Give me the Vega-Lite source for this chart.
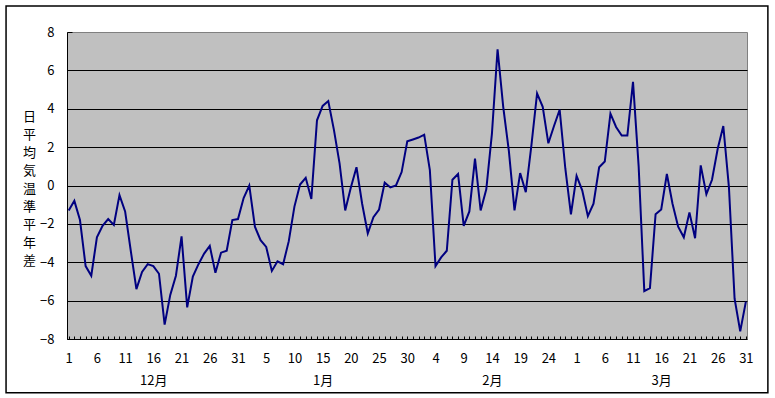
{
  "$schema": "https://vega.github.io/schema/vega-lite/v6.json",
  "width": 680,
  "height": 307,
  "autosize": "none",
  "padding": {"left": 67, "top": 32, "right": 28, "bottom": 59},
  "background": "white",
  "config": {
    "view": {"fill": "#C0C0C0", "stroke": "#808080", "strokeWidth": 1},
    "font": "Noto Sans CJK JP"
  },
  "data": {"values": [
    {"i":0,"date":"12/1","v":-1.3},{"i":1,"date":"12/2","v":-0.8},{"i":2,"date":"12/3","v":-1.8},{"i":3,"date":"12/4","v":-4.2},{"i":4,"date":"12/5","v":-4.7},
    {"i":5,"date":"12/6","v":-2.7},{"i":6,"date":"12/7","v":-2.1},{"i":7,"date":"12/8","v":-1.75},{"i":8,"date":"12/9","v":-2.05},{"i":9,"date":"12/10","v":-0.5},
    {"i":10,"date":"12/11","v":-1.35},{"i":11,"date":"12/12","v":-3.4},{"i":12,"date":"12/13","v":-5.4},{"i":13,"date":"12/14","v":-4.5},{"i":14,"date":"12/15","v":-4.1},
    {"i":15,"date":"12/16","v":-4.2},{"i":16,"date":"12/17","v":-4.6},{"i":17,"date":"12/18","v":-7.25},{"i":18,"date":"12/19","v":-5.7},{"i":19,"date":"12/20","v":-4.7},
    {"i":20,"date":"12/21","v":-2.65},{"i":21,"date":"12/22","v":-6.35},{"i":22,"date":"12/23","v":-4.75},{"i":23,"date":"12/24","v":-4.1},{"i":24,"date":"12/25","v":-3.55},
    {"i":25,"date":"12/26","v":-3.15},{"i":26,"date":"12/27","v":-4.55},{"i":27,"date":"12/28","v":-3.5},{"i":28,"date":"12/29","v":-3.4},{"i":29,"date":"12/30","v":-1.8},
    {"i":30,"date":"12/31","v":-1.75},
    {"i":31,"date":"1/1","v":-0.65},{"i":32,"date":"1/2","v":0.0},{"i":33,"date":"1/3","v":-2.15},{"i":34,"date":"1/4","v":-2.85},{"i":35,"date":"1/5","v":-3.2},
    {"i":36,"date":"1/6","v":-4.45},{"i":37,"date":"1/7","v":-3.95},{"i":38,"date":"1/8","v":-4.1},{"i":39,"date":"1/9","v":-2.9},{"i":40,"date":"1/10","v":-1.1},
    {"i":41,"date":"1/11","v":0.05},{"i":42,"date":"1/12","v":0.4},{"i":43,"date":"1/13","v":-0.7},{"i":44,"date":"1/14","v":3.4},{"i":45,"date":"1/15","v":4.15},
    {"i":46,"date":"1/16","v":4.4},{"i":47,"date":"1/17","v":2.9},{"i":48,"date":"1/18","v":1.15},{"i":49,"date":"1/19","v":-1.3},{"i":50,"date":"1/20","v":-0.1},
    {"i":51,"date":"1/21","v":0.95},{"i":52,"date":"1/22","v":-0.95},{"i":53,"date":"1/23","v":-2.5},{"i":54,"date":"1/24","v":-1.65},{"i":55,"date":"1/25","v":-1.25},
    {"i":56,"date":"1/26","v":0.15},{"i":57,"date":"1/27","v":-0.1},{"i":58,"date":"1/28","v":0.0},{"i":59,"date":"1/29","v":0.7},{"i":60,"date":"1/30","v":2.3},
    {"i":61,"date":"1/31","v":2.4},
    {"i":62,"date":"2/1","v":2.5},{"i":63,"date":"2/2","v":2.65},{"i":64,"date":"2/3","v":0.8},{"i":65,"date":"2/4","v":-4.2},{"i":66,"date":"2/5","v":-3.75},
    {"i":67,"date":"2/6","v":-3.4},{"i":68,"date":"2/7","v":0.3},{"i":69,"date":"2/8","v":0.6},{"i":70,"date":"2/9","v":-2.1},{"i":71,"date":"2/10","v":-1.35},
    {"i":72,"date":"2/11","v":1.4},{"i":73,"date":"2/12","v":-1.3},{"i":74,"date":"2/13","v":-0.2},{"i":75,"date":"2/14","v":2.7},{"i":76,"date":"2/15","v":7.1},
    {"i":77,"date":"2/16","v":4.1},{"i":78,"date":"2/17","v":1.8},{"i":79,"date":"2/18","v":-1.3},{"i":80,"date":"2/19","v":0.65},{"i":81,"date":"2/20","v":-0.35},
    {"i":82,"date":"2/21","v":2.1},{"i":83,"date":"2/22","v":4.8},{"i":84,"date":"2/23","v":4.1},{"i":85,"date":"2/24","v":2.2},{"i":86,"date":"2/25","v":3.1},
    {"i":87,"date":"2/26","v":3.95},{"i":88,"date":"2/27","v":0.9},{"i":89,"date":"2/28","v":-1.5},
    {"i":90,"date":"3/1","v":0.5},{"i":91,"date":"3/2","v":-0.25},{"i":92,"date":"3/3","v":-1.6},{"i":93,"date":"3/4","v":-0.95},{"i":94,"date":"3/5","v":0.95},
    {"i":95,"date":"3/6","v":1.25},{"i":96,"date":"3/7","v":3.75},{"i":97,"date":"3/8","v":3.05},{"i":98,"date":"3/9","v":2.6},{"i":99,"date":"3/10","v":2.6},
    {"i":100,"date":"3/11","v":5.4},{"i":101,"date":"3/12","v":1.0},{"i":102,"date":"3/13","v":-5.5},{"i":103,"date":"3/14","v":-5.35},{"i":104,"date":"3/15","v":-1.5},
    {"i":105,"date":"3/16","v":-1.25},{"i":106,"date":"3/17","v":0.6},{"i":107,"date":"3/18","v":-0.95},{"i":108,"date":"3/19","v":-2.15},{"i":109,"date":"3/20","v":-2.7},
    {"i":110,"date":"3/21","v":-1.4},{"i":111,"date":"3/22","v":-2.75},{"i":112,"date":"3/23","v":1.05},{"i":113,"date":"3/24","v":-0.45},{"i":114,"date":"3/25","v":0.3},
    {"i":115,"date":"3/26","v":1.9},{"i":116,"date":"3/27","v":3.1},{"i":117,"date":"3/28","v":-0.1},{"i":118,"date":"3/29","v":-5.9},{"i":119,"date":"3/30","v":-7.6},
    {"i":120,"date":"3/31","v":-6.05}
  ]},
  "layer": [
    {
      "mark": {"type": "line", "color": "#000080", "strokeWidth": 2, "strokeJoin": "miter"},
      "encoding": {
        "x": {
          "field": "i", "type": "quantitative",
          "scale": {"domain": [-0.3, 120.2], "nice": false, "zero": false},
          "axis": {
            "title": null,
            "values": [0,1,2,3,4,5,6,7,8,9,10,11,12,13,14,15,16,17,18,19,20,21,22,23,24,25,26,27,28,29,30,31,32,33,34,35,36,37,38,39,40,41,42,43,44,45,46,47,48,49,50,51,52,53,54,55,56,57,58,59,60,61,62,63,64,65,66,67,68,69,70,71,72,73,74,75,76,77,78,79,80,81,82,83,84,85,86,87,88,89,90,91,92,93,94,95,96,97,98,99,100,101,102,103,104,105,106,107,108,109,110,111,112,113,114,115,116,117,118,119,120],
            "tickCount": 500,
            "labelExpr": "datum.value % 5 != 0 ? '' : datum.value == 15 ? ['16', '12月'] : datum.value == 45 ? ['15', '1月'] : datum.value == 75 ? ['14', '2月'] : datum.value == 105 ? ['16', '3月'] : '' + (datum.value < 31 ? datum.value + 1 : datum.value < 62 ? datum.value - 30 : datum.value < 90 ? datum.value - 61 : datum.value - 89)",
            "labelOverlap": false,
            "labelBound": false,
            "labelFlush": false,
            "labelAngle": 0,
            "labelBaseline": "top",
            "labelLineHeight": 22,
            "labelFontSize": 13,
            "labelColor": "black",
            "labelPadding": 16,
            "ticks": true,
            "tickSize": -3,
            "tickColor": "black",
            "domainColor": "black",
            "grid": false
          }
        },
        "y": {
          "field": "v", "type": "quantitative",
          "scale": {"domain": [-8, 8], "nice": false},
          "axis": {
            "values": [-8, -6, -4, -2, 0, 2, 4, 6, 8],
            "tickCount": 50,
            "format": "d",
            "title": ["日", "平", "均", "気", "温", "準", "平", "年", "差"],
            "titleAngle": 0,
            "titleFontSize": 13,
            "titleFontWeight": "normal",
            "titleLineHeight": 18,
            "titleAlign": "center",
            "titleBaseline": "middle",
            "titleX": -38,
            "titleY": 84,
            "titleColor": "black",
            "labelFontSize": 13,
            "labelColor": "black",
            "labelPadding": 18,
            "tickSize": -5,
            "tickColor": "black",
            "domainColor": "black",
            "grid": true,
            "gridColor": "black",
            "gridOpacity": {"condition": {"test": "abs(datum.value) == 8", "value": 0}, "value": 1}
          }
        }
      }
    },
    {
      "data": {"values": [{"frame": "chart area"}]},
      "mark": {"type": "rect", "fill": null, "stroke": "black", "strokeWidth": 1.5, "clip": false},
      "encoding": {
        "x": {"datum": -11.1, "type": "quantitative"},
        "x2": {"datum": 123.9},
        "y": {"datum": 9.36, "type": "quantitative"},
        "y2": {"datum": -10.8}
      }
    }
  ]
}
